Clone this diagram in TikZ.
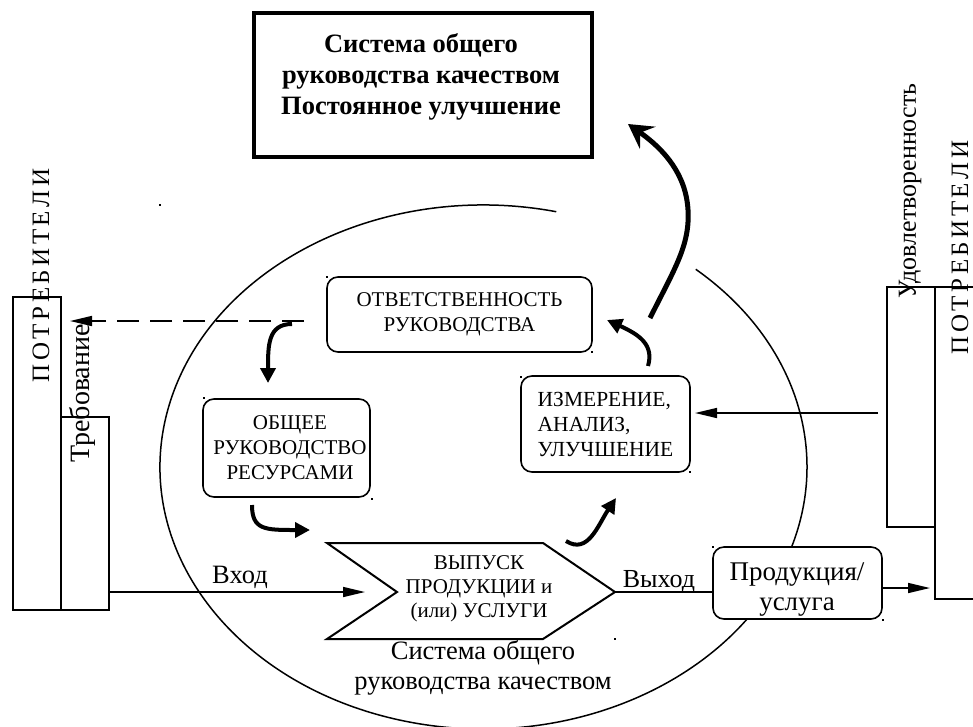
\documentclass[tikz,border=0pt]{standalone}
\usepackage{fontspec}
\setmainfont{Liberation Serif}
\usetikzlibrary{arrows.meta,shapes.geometric}
\newcommand\potrtext{П\hspace{3.5pt}О\hspace{3.5pt}Т\hspace{3.5pt}Р\hspace{3.5pt}Е\hspace{3.5pt}Б\hspace{3.5pt}И\hspace{3.5pt}Т\hspace{3.5pt}Е\hspace{3.5pt}Л\hspace{3.5pt}И}
\begin{document}
\begin{tikzpicture}[x=1pt,y=-1pt]
\tikzset{
 rbox/.style={draw, line width=1.6pt, rounded corners=11pt, fill=white, inner sep=0pt},
 pbox/.style={draw, line width=1.4pt, inner sep=0pt},
 boxtxt/.style={font=\fontsize{21}{25}\selectfont, align=center, inner sep=0pt},
 thinarrow/.style={line width=1.6pt, -{Triangle[length=22pt,width=10pt]}},
 bendarrow/.style={line width=4pt, -{Triangle[length=15pt,width=15pt]}},
 bigarrow/.style={line width=5pt, -{Stealth[length=24pt,width=27pt,inset=9pt]}},
 side/.style={rotate=90, inner sep=0pt},
 dotm/.style={fill=black, inner sep=0pt, minimum size=2pt}
}
\useasboundingbox (0,0) rectangle (973,726);
\fill[white] (0,0) rectangle (973,726);

% ellipse (quality management system)
\draw[line width=1.5pt] (483.5,467) ++(77:323.5pt and 262pt)
  arc[start angle=77,end angle=409,x radius=323.5pt,y radius=262pt];

% top box
\node[draw, line width=3.5pt, minimum width=338pt, minimum height=144pt, inner sep=0pt] (top) at (423,85) {};
\node[font=\bfseries\fontsize{26.5}{31}\selectfont, align=center, inner sep=0pt] (toptxt) at (421,77)
  {Система общего\\руководства качеством\\Постоянное улучшение};

% left customer boxes
\node[pbox, minimum width=48pt, minimum height=313pt] (lbig) at (37,453.5) {};
\node[pbox, minimum width=48pt, minimum height=193pt] (lsmall) at (85,513.5) {};
\node[side, font=\fontsize{25}{25}\selectfont] (lpotr) at (41,275.5) {\potrtext};
\node[side, font=\fontsize{28}{28}\selectfont] (treb) at (82,393.5) {Требование};

% right customer boxes
\node[pbox, minimum width=48pt, minimum height=240pt] (rinner) at (911,407) {};
\node[pbox, minimum width=56pt, minimum height=312pt] (router) at (963,443) {};
\node[side, font=\fontsize{26}{26}\selectfont] (udov) at (910,191) {Удовлетворенность};
\node[side, font=\fontsize{25}{25}\selectfont] (rpotr) at (960,247.5) {\potrtext};

% process boxes
\node[rbox, minimum width=265pt, minimum height=75pt] (otv) at (459.5,314.5) {};
\node[boxtxt] (otvtxt) at (459.5,314) {ОТВЕТСТВЕННОСТЬ\\РУКОВОДСТВА};
\node[rbox, minimum width=167pt, minimum height=98pt] (obs) at (286.5,448) {};
\node[boxtxt] (obstxt) at (290,448) {ОБЩЕЕ\\РУКОВОДСТВО\\РЕСУРСАМИ};
\node[rbox, minimum width=169pt, minimum height=96pt] (izm) at (605.5,424) {};
\node[boxtxt, font=\fontsize{21.5}{25}\selectfont, align=left] (izmtxt) at (605.5,424) {ИЗМЕРЕНИЕ,\\АНАЛИЗ,\\УЛУЧШЕНИЕ};
\node[rbox, minimum width=169pt, minimum height=72pt] (prod) at (797.5,583) {};
\node[font=\fontsize{27}{30}\selectfont, align=center, inner sep=0pt] (prodtxt) at (797,590) {Продукция/\\услуга};

% output process (chevron)
\draw[line width=2pt, line join=miter] (327,543) coordinate (pA) -- (543,543) -- (615,592) coordinate (ptip)
  -- (543,639) -- (327,639) -- (397,592) coordinate (pnotch) -- cycle;
\node[font=\fontsize{21}{24}\selectfont, align=center, inner sep=0pt] (vyp) at (479,589)
  {ВЫПУСК\\ПРОДУКЦИИ и\\(или) УСЛУГИ};

\node[font=\fontsize{26.5}{30}\selectfont, align=center, inner sep=0pt] (sys) at (483,668)
  {Система общего\\руководства качеством};

% inputs / outputs
\coordinate (vhodS) at (109,592);
\coordinate (vhodE) at (365,592);
\draw[thinarrow] (vhodS) -- (vhodE);
\node[font=\fontsize{26.5}{26}\selectfont, anchor=base, inner sep=0pt] (vhod) at (240,583) {Вход};
\coordinate (vyhE) at (713,592);
\draw[line width=1.6pt] (ptip) -- (vyhE);
\node[font=\fontsize{26}{26}\selectfont, anchor=base, inner sep=0pt] (vyhod) at (659,587) {Выход};
\coordinate (prodOut) at (882,588);
\coordinate (custIn) at (930,588);
\draw[thinarrow] (prodOut) -- (custIn);
\coordinate (satS) at (878,413);
\coordinate (satE) at (695,413);
\draw[thinarrow] (satS) -- (satE);
\coordinate (dashS) at (304,321);
\coordinate (dashE) at (70,321);
\draw[line width=1.6pt, dash pattern=on 22pt off 11pt, -{Triangle[length=22pt,width=10pt]}] (dashS) -- (dashE);

% cycle arrows
\coordinate (h1s) at (292,324); \coordinate (h1e) at (268,383);
\draw[bendarrow] (h1s) .. controls (268,324) and (268,345) .. (h1e);
\coordinate (h2s) at (252,505); \coordinate (h2e) at (310,530);
\draw[bendarrow] (h2s) .. controls (252,530) and (265,530) .. (h2e);
\coordinate (h3s) at (566,541); \coordinate (h3e) at (616,498);
\draw[bendarrow] (h3s) .. controls (588,555) and (598,525) .. (h3e);
\coordinate (h4s) at (648,366); \coordinate (h4e) at (607,320);
\draw[bendarrow] (h4s) .. controls (654,345) and (640,335) .. (h4e);
\coordinate (bs) at (650,318); \coordinate (be) at (628,124);
\draw[bigarrow] (bs) .. controls (675,268) and (690,245) .. (688,210)
  .. controls (686,175) and (665,150) .. (be);

% small anchor dots
\foreach \p/\n in {(160,205)/d1,(204,398)/d2,(372,499)/d3,(327,277)/d4,(592,352)/d5,
  (521,377)/d6,(690,472)/d7,(615,639)/d8,(713,547)/d9,(883,620)/d10}
  \node[dotm] (\n) at \p {};
\end{tikzpicture}
\end{document}
